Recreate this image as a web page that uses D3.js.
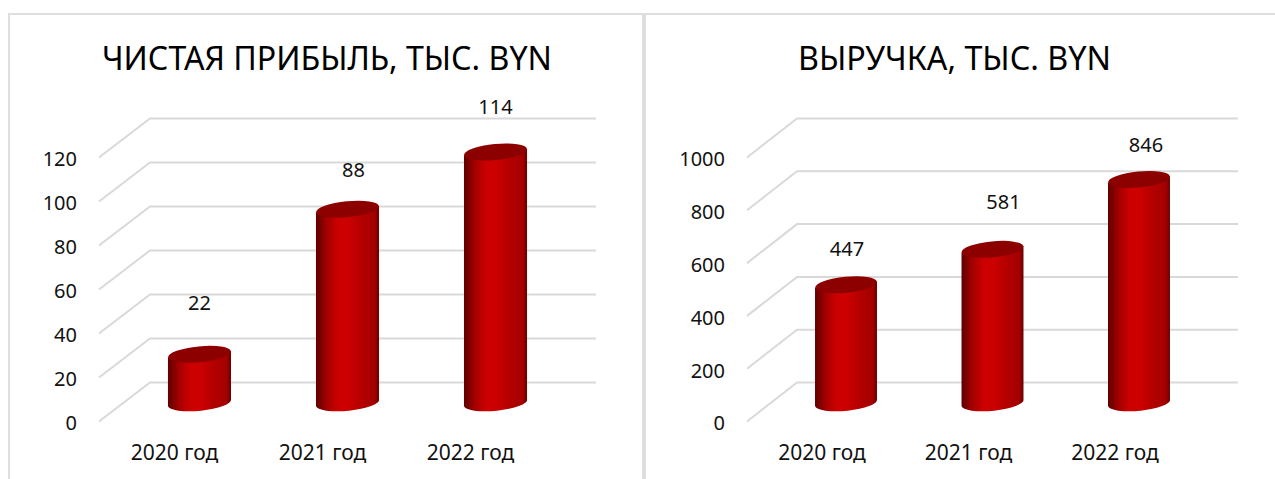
<!DOCTYPE html>
<html>
<head>
<meta charset="utf-8">
<script src="https://cdn.jsdelivr.net/npm/d3@7"></script>
<style>
  html, body { margin: 0; padding: 0; background: #fff; }
  svg { display: block; }
  text { font-family: "Noto Sans", sans-serif; fill: #111; }
</style>
</head>
<body>
<div id="chart"></div>
<script>
const categories = ["2020 год", "2021 год", "2022 год"];

const profitTitle = "ЧИСТАЯ ПРИБЫЛЬ, ТЫС. BYN";
const profitValues = [22, 88, 114];
const profitTicks = [0, 20, 40, 60, 80, 100, 120];

const revenueTitle = "ВЫРУЧКА, ТЫС. BYN";
const revenueValues = [447, 581, 846];
const revenueTicks = [0, 200, 400, 600, 800, 1000];

const width = 1275, height = 479;

const svg = d3.select("#chart").append("svg")
    .attr("width", width)
    .attr("height", height);

const defs = svg.append("defs");
const grad = defs.append("linearGradient").attr("id", "cyl");
grad.append("stop").attr("offset", "0%").attr("stop-color", "#5e0000");
grad.append("stop").attr("offset", "18%").attr("stop-color", "#a60000");
grad.append("stop").attr("offset", "35%").attr("stop-color", "#cc0000");
grad.append("stop").attr("offset", "52%").attr("stop-color", "#cc0000");
grad.append("stop").attr("offset", "72%").attr("stop-color", "#b40000");
grad.append("stop").attr("offset", "93%").attr("stop-color", "#a40000");
grad.append("stop").attr("offset", "100%").attr("stop-color", "#680000");

// panel frames
const frame = "#dedede";
svg.append("path").attr("fill", "none").attr("stroke", frame).attr("stroke-width", 2)
    .attr("d", "M9,479V14H1275");
svg.append("rect").attr("x", 642).attr("y", 14).attr("width", 4).attr("height", 465).attr("fill", frame);

function draw3dChart(o) {
    const g = svg.append("g");

    g.append("text")
        .attr("x", o.titleX)
        .attr("y", 70)
        .attr("font-size", 33)
        .attr("textLength", o.titleLen)
        .attr("lengthAdjust", "spacingAndGlyphs")
        .style("fill", "#000")
        .text(o.title);

    // front edge of the side wall, the back wall and the bar feet share the domain
    const yFront = d3.scaleLinear().domain(o.domain).range([421.5, 157.5]);
    const yBack = d3.scaleLinear().domain(o.domain).range([382.5, 118.5]);
    const yBar = d3.scaleLinear().domain(o.domain).range([406, 142]);

    // gridlines go up the side wall and then across the back wall
    g.append("g").selectAll("path")
        .data(o.ticks)
        .join("path")
        .attr("fill", "none")
        .attr("stroke", "#d9d9d9")
        .attr("stroke-width", 2)
        .attr("d", d => "M" + o.frontX + "," + yFront(d) + "L" + o.backX + "," + yBack(d) + "H" + o.rightX);

    const yAxis = g.append("g")
        .attr("transform", "translate(" + o.axisX + ",2)")
        .call(d3.axisLeft(yFront).tickValues(o.ticks).tickSize(0).tickPadding(0).tickFormat(d3.format("d")));
    yAxis.select(".domain").remove();
    yAxis.selectAll("text").attr("font-size", 20).attr("font-family", "Noto Sans").style("fill", "#111");

    const x = d3.scaleBand().domain(categories).range(o.xRange).padding(o.padding);
    const w = x.bandwidth();
    const rx = w / 2, ry = 8, tilt = -5.5, slope = 6.5;

    const xAxis = g.append("g")
        .attr("transform", "translate(" + o.catShift + ",445)")
        .call(d3.axisBottom(x).tickSize(0).tickPadding(0));
    xAxis.select(".domain").remove();
    xAxis.selectAll("text").attr("font-size", 21).attr("font-family", "Noto Sans").style("fill", "#111");

    const bars = g.append("g").selectAll("g")
        .data(o.values)
        .join("g")
        .attr("transform", (d, i) => "translate(" + x(categories[i]) + ",0)");

    // cylinder body: side walls plus lower half of the skewed base ellipse
    bars.append("path")
        .attr("fill", "url(#cyl)")
        .attr("d", d => {
            const top = yBar(d), base = yBar(0);
            const arc = "A" + rx + "," + ry + " " + tilt + " 0 ";
            return "M0," + top + "L" + w + "," + (top - slope) +
                "V" + (base - slope) + arc + "1 0," + base + "Z";
        });
    // top cap
    bars.append("ellipse")
        .attr("fill", "#8c0000")
        .attr("rx", rx)
        .attr("ry", ry)
        .attr("transform", d => "translate(" + w / 2 + "," + (yBar(d) - slope / 2) + ") rotate(" + tilt + ")");

    g.append("g").selectAll("text")
        .data(o.values)
        .join("text")
        .attr("text-anchor", "middle")
        .attr("font-size", 20)
        .attr("x", (d, i) => x(categories[i]) + w / 2 + o.labelShift[i])
        .attr("y", (d, i) => yBar(d) - o.labelLift[i])
        .text(d => d);
}

draw3dChart({
    title: profitTitle, titleX: 102, titleLen: 450,
    values: profitValues, ticks: profitTicks, domain: [0, 120],
    frontX: 99, backX: 150, rightX: 596, axisX: 77,
    xRange: [83, 612], padding: 0.574, catShift: -25,
    labelLift: [48, 35, 41], labelShift: [0, 6, 0]
});

draw3dChart({
    title: revenueTitle, titleX: 798, titleLen: 313,
    values: revenueValues, ticks: revenueTicks, domain: [0, 1000],
    frontX: 747, backX: 797, rightX: 1238, axisX: 725,
    xRange: [730.5, 1254.5], padding: 0.577, catShift: -24,
    labelLift: [32, 44, 31], labelShift: [1, 11, 7]
});
</script>
</body>
</html>
